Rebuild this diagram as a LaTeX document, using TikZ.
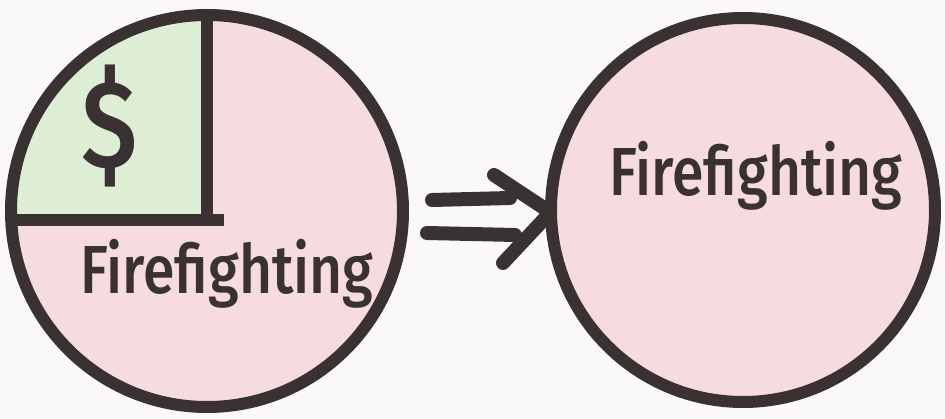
\documentclass[tikz,border=0pt]{standalone}
\usepackage{fontspec}
\setmainfont{Fira Sans}
\IfFontExistsTF{Fira Sans Medium}{\newfontfamily\handfont{Fira Sans Medium}}{\newfontfamily\handfont{Fira Sans}}
\usetikzlibrary{calc}
\definecolor{ink}{RGB}{58,50,50}
\definecolor{pinkfill}{RGB}{246,220,225}
\definecolor{greenfill}{RGB}{222,238,212}
\definecolor{paper}{RGB}{250,248,250}
\begin{document}
\begin{tikzpicture}[x=1pt,y=-1pt,line cap=round,line join=round,
  inkline/.style={draw=ink,line width=12pt,line cap=butt},
  arrowline/.style={draw=ink,line width=14pt},
  ring/.style={circle,draw=ink,line width=12pt,inner sep=0pt,outer sep=0pt},
  hand/.style={text=ink,font=\handfont\fontsize{68}{68}\selectfont,inner sep=0pt,xscale=0.84}]
\fill[paper] (0,0) rectangle (945,419);
\useasboundingbox (0,0) rectangle (945,419);
% fills
\fill[pinkfill] (207,211) circle[radius=196];
\begin{scope}
  \clip (207,211) circle[radius=196];
  \fill[greenfill] (0,0) rectangle (207,220);
\end{scope}
\fill[pinkfill] (743,210) circle[radius=192];
% circles
\node[ring,minimum size=392pt] (left) at (207,211) {};
\node[ring,minimum size=384pt] (right) at (743,210) {};
% quadrant lines
\coordinate (corner) at (207,220);
\coordinate (hend) at (224,220);
\draw[inkline] (left.north -| corner) -- ($(corner)+(0,6)$);
\draw[inkline] (left.west |- corner) -- (hend);
% texts
\node[hand,font=\handfont\fontsize{124}{124}\selectfont,xscale=1] (dollar) at (110,126) {\$};
\node[hand] (lefttext) at (227,274) {Firefighting};
\node[hand] (righttext) at (756,176) {Firefighting};
% double arrow
\coordinate (tip) at (right.west);
\coordinate (s1) at (432,200);
\coordinate (s1e) at (510,198);
\coordinate (s2) at (427,233);
\coordinate (s2e) at (515,235);
\coordinate (h1) at (494,175);
\coordinate (h2) at (503,263);
\draw[arrowline] (s1) -- (s1e);
\draw[arrowline] (s2) -- (s2e);
\draw[arrowline] (h1) -- ($(tip)+(-4,0)$);
\draw[arrowline] (h2) -- ($(tip)+(-4,6)$);
\end{tikzpicture}
\end{document}
